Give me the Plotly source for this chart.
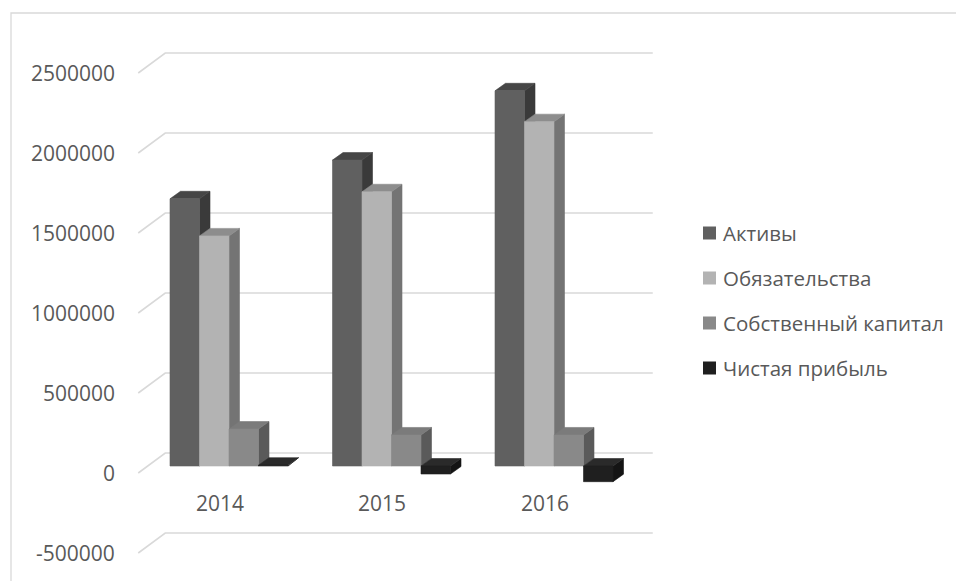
import plotly.graph_objects as go

# ---- data -------------------------------------------------------------
years = ["2014", "2015", "2016"]
series_names = ["Активы", "Обязательства", "Собственный капитал", "Чистая прибыль"]
assets = [1670000, 1912000, 2345000]
liabilities = [1438000, 1714000, 2152000]
equity = [231000, 194000, 194000]
net_profit = [5000, -50000, -98000]
value_ticks = [-500000, 0, 500000, 1000000, 1500000, 2000000, 2500000]

series_values = [assets, liabilities, equity, net_profit]

# ---- styling ----------------------------------------------------------
# (front, top, side) shades of every series
shades = [
    ("#606060", "#464646", "#3a3a3a"),
    ("#b3b3b3", "#8d8d8d", "#747474"),
    ("#898989", "#7b7b7b", "#5a5a5a"),
    ("#1f1f1f", "#2a2a2a", "#141414"),
]
text_color = "#595959"
grid_color = "#d9d9d9"
font_family = "Open Sans, Noto Sans, sans-serif"

W, H = 956, 581
PX_PER_CAT = 162.5          # pixels between category centres
VAL_PER_PX = 6250.0         # value units per pixel
ORIGIN_X, ORIGIN_Y = 229.0, 466.0   # pixel of category 0 / value 0 on the bar plane

DX = 1.0 / PX_PER_CAT       # one pixel in category units
DY = VAL_PER_PX             # one pixel in value units


def px_to_x(px):
    return (px - ORIGIN_X) * DX


def px_to_y(py):
    return (ORIGIN_Y - py) * DY


bar_w = 29.5 * DX
depth_x, depth_y = 10.5 * DX, 7.5 * DY        # bar depth (oblique)
wall_x, wall_y = 17.5 * DX, 13.0 * DY         # bar plane -> back wall
floor_x, floor_y = -27.0 * DX, -20.0 * DY     # back wall -> front edge

fig = go.Figure()

# ---- walls: gridlines on the back wall and their diagonal on the side wall
n_cat = len(years)
for v in value_ticks:
    yb = v + wall_y
    xb0 = -0.5 + wall_x
    xb1 = n_cat - 0.5 + wall_x
    fig.add_trace(go.Scatter(
        x=[xb0 + floor_x, xb0, xb1], y=[yb + floor_y, yb, yb],
        mode="lines", line=dict(color=grid_color, width=1.6),
        hoverinfo="skip", showlegend=False))
    fig.add_annotation(
        x=xb0 + floor_x - 21 * DX, y=yb + floor_y, text=f"{v}",
        showarrow=False, xanchor="right", yanchor="middle",
        font=dict(family=font_family, size=21, color=text_color))

# ---- category labels along the front edge of the floor
for i, yr in enumerate(years):
    fig.add_annotation(
        x=i + wall_x + floor_x, y=-37 * DY, text=yr,
        showarrow=False, xanchor="center", yanchor="middle",
        font=dict(family=font_family, size=21, color=text_color))

# ---- 3-D columns: side, top, then front face for each series, left to right
group_w = bar_w * len(series_values)


def poly_trace(xs, ys, color, name):
    return go.Scatter(
        x=xs, y=ys, mode="lines", fill="toself", fillcolor=color, name=name,
        line=dict(color=color, width=0.6), hoverinfo="skip", showlegend=False)


for s, vals in enumerate(series_values):
    front_c, top_c, side_c = shades[s]
    side_x, side_y, top_x, top_y, front_x, front_y = [], [], [], [], [], []
    for i, v in enumerate(vals):
        x0 = i - group_w / 2 + s * bar_w
        x1 = x0 + bar_w
        lo, hi = min(0, v), max(0, v)
        side_x += [x1, x1 + depth_x, x1 + depth_x, x1, x1, None]
        side_y += [lo, lo + depth_y, hi + depth_y, hi, lo, None]
        top_x += [x0, x1, x1 + depth_x, x0 + depth_x, x0, None]
        top_y += [hi, hi, hi + depth_y, hi + depth_y, hi, None]
        front_x += [x0, x1, x1, x0, x0, None]
        front_y += [lo, lo, hi, hi, lo, None]
    fig.add_trace(poly_trace(side_x, side_y, side_c, series_names[s]))
    fig.add_trace(poly_trace(top_x, top_y, top_c, series_names[s]))
    fig.add_trace(poly_trace(front_x, front_y, front_c, series_names[s]))

# ---- legend: square key + label for every series
LEG_KEY_X, LEG_TEXT_X, LEG_TOP, LEG_STEP = 709.5, 721.0, 233.0, 45.0
for s, name in enumerate(series_names):
    cy = LEG_TOP + s * LEG_STEP
    fig.add_trace(go.Scatter(
        x=[px_to_x(LEG_KEY_X)], y=[px_to_y(cy)], mode="markers", name=name,
        marker=dict(symbol="square", size=13, color=shades[s][0],
                    line=dict(width=0)),
        hoverinfo="skip", showlegend=False))
    fig.add_annotation(
        x=px_to_x(LEG_TEXT_X), y=px_to_y(cy), text=name,
        showarrow=False, xanchor="left", yanchor="middle",
        font=dict(family=font_family, size=20.5, color=text_color))

# ---- chart border
fig.add_shape(type="rect", xref="paper", yref="paper",
              x0=11 / W, x1=1.05, y0=-0.05, y1=1 - 13 / H,
              line=dict(color=grid_color, width=1.3))

fig.update_layout(
    width=W, height=H, autosize=False,
    margin=dict(l=0, r=0, t=0, b=0, pad=0),
    paper_bgcolor="white", plot_bgcolor="white",
    xaxis=dict(range=[px_to_x(0), px_to_x(W)], visible=False, fixedrange=True),
    yaxis=dict(range=[px_to_y(H), px_to_y(0)], visible=False, fixedrange=True),
    showlegend=False,
)

fig.write_html("out.html", config={"displayModeBar": False})
